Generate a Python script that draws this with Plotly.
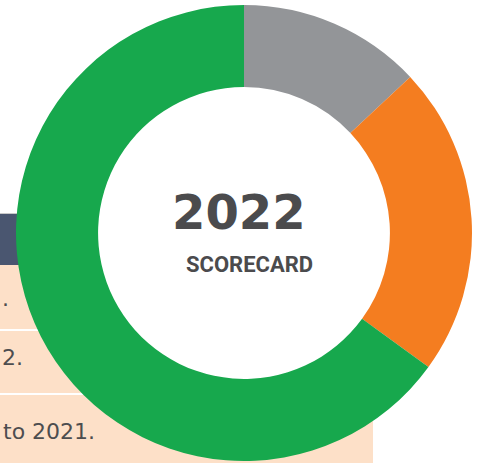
import plotly.graph_objects as go

W, H = 481, 463

# Donut data (share of scorecard items)
categories = ["Not met", "Partially met", "Met"]
values = [13, 22, 65]
colors = ["#939598", "#f47d20", "#17a84d"]

# Background table fragments (visible text)
row_texts = [".", "2.", "to 2021."]

def px_x(x):
    return x / W

def px_y(y):
    return 1 - y / H

fig = go.Figure()

cx, cy, R = 244, 233, 228
fig.add_trace(go.Pie(
    labels=categories,
    values=values,
    marker=dict(colors=colors, line=dict(width=0)),
    hole=0.64,
    sort=False,
    direction="clockwise",
    rotation=0,
    textinfo="none",
    hoverinfo="label+percent",
    showlegend=False,
    domain=dict(x=[px_x(cx - R), px_x(cx + R)], y=[px_y(cy + R), px_y(cy - R)]),
))

shapes = []
# header bar
shapes.append(dict(type="rect", xref="paper", yref="paper", layer="below",
                   x0=0, x1=px_x(373), y0=px_y(265), y1=px_y(213),
                   fillcolor="#4a5670", line=dict(width=0)))
shapes.append(dict(type="line", xref="paper", yref="paper", layer="below",
                   x0=0, x1=px_x(373), y0=px_y(213.5), y1=px_y(213.5),
                   line=dict(color="#c9c9c9", width=1)))
# peach body
shapes.append(dict(type="rect", xref="paper", yref="paper", layer="below",
                   x0=0, x1=px_x(373), y0=0, y1=px_y(265),
                   fillcolor="#fde0c8", line=dict(width=0)))
for yy in [330, 394]:
    shapes.append(dict(type="line", xref="paper", yref="paper", layer="below",
                       x0=0, x1=px_x(373), y0=px_y(yy), y1=px_y(yy),
                       line=dict(color="#ffffff", width=2)))
# white fill inside donut hole
hr = 150
shapes.append(dict(type="circle", xref="paper", yref="paper", layer="below",
                   x0=px_x(cx - hr), x1=px_x(cx + hr), y0=px_y(cy + hr), y1=px_y(cy - hr),
                   fillcolor="#ffffff", line=dict(width=0)))

annotations = []
row_pos = [(0, 298), (0, 357), (1, 431)]
for i, (t, (x, y)) in enumerate(zip(row_texts, row_pos)):
    annotations.append(dict(text=t, xref="paper", yref="paper", x=px_x(x), y=px_y(y),
                            xanchor="left", yanchor="middle",
                            showarrow=False,
                            font=dict(family="DejaVu Sans", size=22, color="#4d4d4f")))

annotations.append(dict(text="<b>2022</b>", xref="paper", yref="paper",
                        x=px_x(239), y=px_y(212), xanchor="center", yanchor="middle",
                        showarrow=False,
                        font=dict(family="DejaVu Sans", size=48, color="#4b4b4d")))
annotations.append(dict(text="<b>SCORECARD</b>", xref="paper", yref="paper",
                        x=px_x(249), y=px_y(264), xanchor="center", yanchor="middle",
                        showarrow=False,
                        font=dict(family="Roboto", size=22, color="#4b4b4d")))

fig.update_layout(
    width=W, height=H,
    margin=dict(l=0, r=0, t=0, b=0),
    paper_bgcolor="#ffffff",
    plot_bgcolor="#ffffff",
    shapes=shapes,
    annotations=annotations,
)

fig.write_html("out.html", config={"displayModeBar": False})

# remove default page margin so the figure sits at the window's top-left corner
with open("out.html", "r", encoding="utf-8") as f:
    html = f.read()
html = html.replace("<body>", '<body style="margin:0;padding:0;">', 1)
with open("out.html", "w", encoding="utf-8") as f:
    f.write(html)
